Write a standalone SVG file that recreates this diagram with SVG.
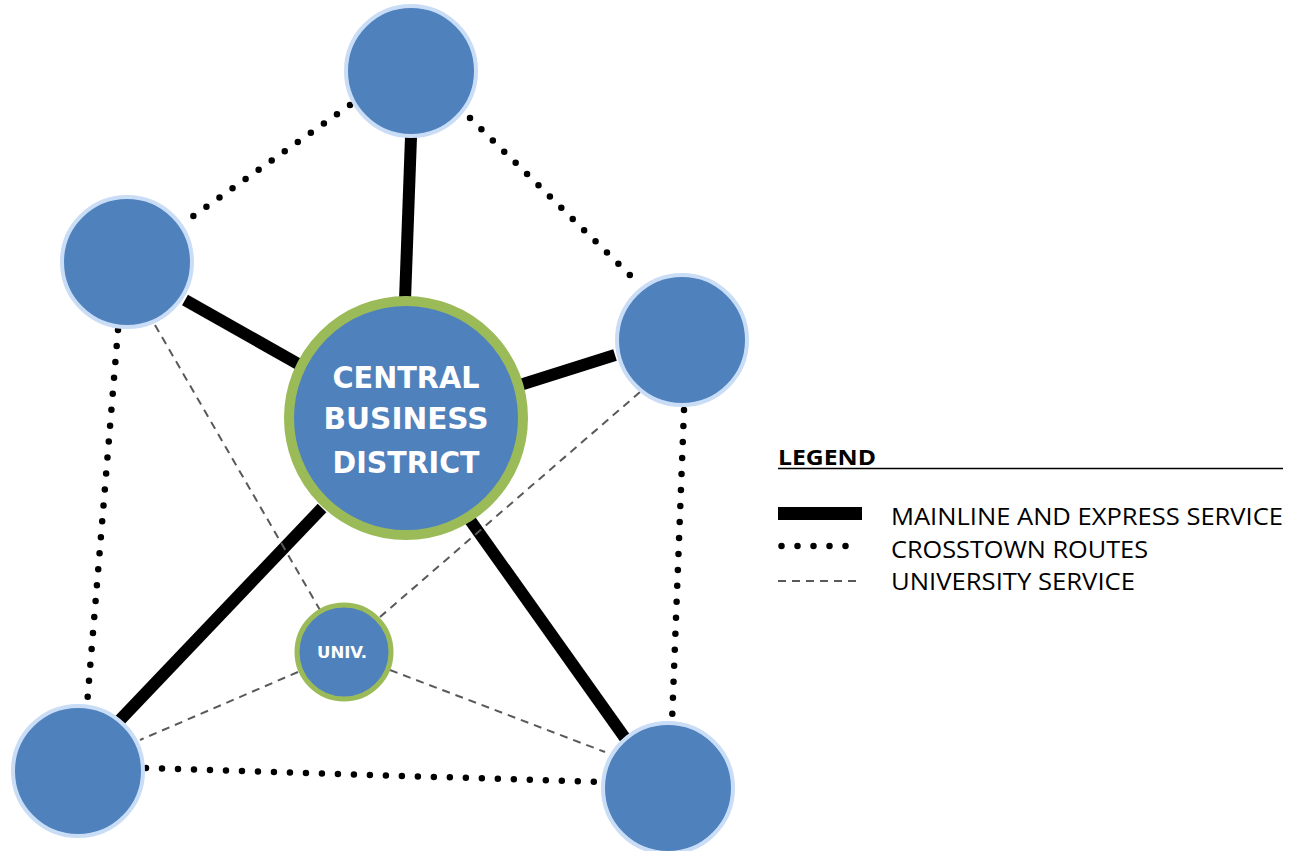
<svg xmlns="http://www.w3.org/2000/svg" width="1298" height="851" viewBox="0 0 1298 851">
<style>
.node{fill:#4F81BD;stroke:#C9DDF6;stroke-width:4}
.hub{fill:#4F81BD;stroke:#9BBB59}
.main{stroke:#000;stroke-width:12;fill:none}
.cross{stroke:#000;stroke-width:6.5;stroke-linecap:round;stroke-dasharray:0 16;fill:none}
.univ{stroke:#595959;stroke-width:2;stroke-dasharray:8 6;fill:none}
.lbl{font-family:"DejaVu Sans Condensed","DejaVu Sans",sans-serif;font-weight:bold;fill:#fff;text-anchor:middle}
.leg{font-family:"Open Sans","Liberation Sans",sans-serif;font-size:24px;fill:#000}
</style>
<rect width="1298" height="851" fill="#fff"/>
<g id="connectors">
<line class="main" x1="411" y1="137" x2="405" y2="300"/>
<line class="main" x1="185" y1="300" x2="300" y2="365"/>
<line class="main" x1="520" y1="385" x2="615" y2="355"/>
<line class="main" x1="322" y1="508" x2="120" y2="720"/>
<line class="main" x1="470" y1="520" x2="625" y2="738"/>
<line class="cross" x1="350" y1="105" x2="185" y2="222"/>
<line class="cross" x1="470" y1="118" x2="640" y2="285"/>
<line class="cross" x1="118" y1="330" x2="87" y2="705"/>
<line class="cross" x1="684" y1="410" x2="672" y2="722"/>
<line class="cross" x1="146" y1="768" x2="600" y2="782"/>
<line class="univ" x1="155" y1="325" x2="320" y2="610"/>
<line class="univ" x1="640" y1="392" x2="380" y2="617"/>
<line class="univ" x1="298" y1="672" x2="140" y2="740"/>
<line class="univ" x1="390" y1="670" x2="605" y2="752"/>
</g>
<g id="n-top"><circle class="node" cx="411" cy="71" r="65"/></g>
<g id="n-upperleft"><circle class="node" cx="127" cy="262" r="65"/></g>
<g id="n-right"><circle class="node" cx="682" cy="340" r="65"/></g>
<g id="n-bottomleft"><circle class="node" cx="78" cy="771" r="65"/></g>
<g id="n-bottomright"><circle class="node" cx="668" cy="788" r="65"/></g>
<g id="n-cbd">
<circle class="hub" cx="406" cy="418" r="117" stroke-width="10"/>
<text class="lbl" x="406" y="388" font-size="30" textLength="147" lengthAdjust="spacingAndGlyphs">CENTRAL</text>
<text class="lbl" x="406" y="429" font-size="30" textLength="165" lengthAdjust="spacingAndGlyphs">BUSINESS</text>
<text class="lbl" x="406" y="473" font-size="30" textLength="147" lengthAdjust="spacingAndGlyphs">DISTRICT</text>
</g>
<g id="n-univ">
<circle class="hub" cx="344" cy="652" r="47" stroke-width="5"/>
<text class="lbl" x="342" y="658" font-size="16" textLength="50" lengthAdjust="spacingAndGlyphs">UNIV.</text>
</g>
<g id="legend">
<text x="778" y="465" font-family="'Open Sans','Liberation Sans',sans-serif" font-weight="bold" font-size="22" fill="#000" textLength="98" lengthAdjust="spacingAndGlyphs">LEGEND</text>
<line x1="778" y1="468.5" x2="1283" y2="468.5" stroke="#000" stroke-width="1.5"/>
<rect x="778" y="507" width="84" height="13" fill="#000"/>
<line class="cross" x1="781.5" y1="546" x2="846.5" y2="546" stroke-width="6"/>
<line class="univ" x1="778" y1="581" x2="862" y2="581" stroke-dasharray="9 7"/>
<text class="leg" x="891" y="525" textLength="392" lengthAdjust="spacingAndGlyphs">MAINLINE AND EXPRESS SERVICE</text>
<text class="leg" x="891" y="558" textLength="257" lengthAdjust="spacingAndGlyphs">CROSSTOWN ROUTES</text>
<text class="leg" x="891" y="590" textLength="244" lengthAdjust="spacingAndGlyphs">UNIVERSITY SERVICE</text>
</g>
</svg>
